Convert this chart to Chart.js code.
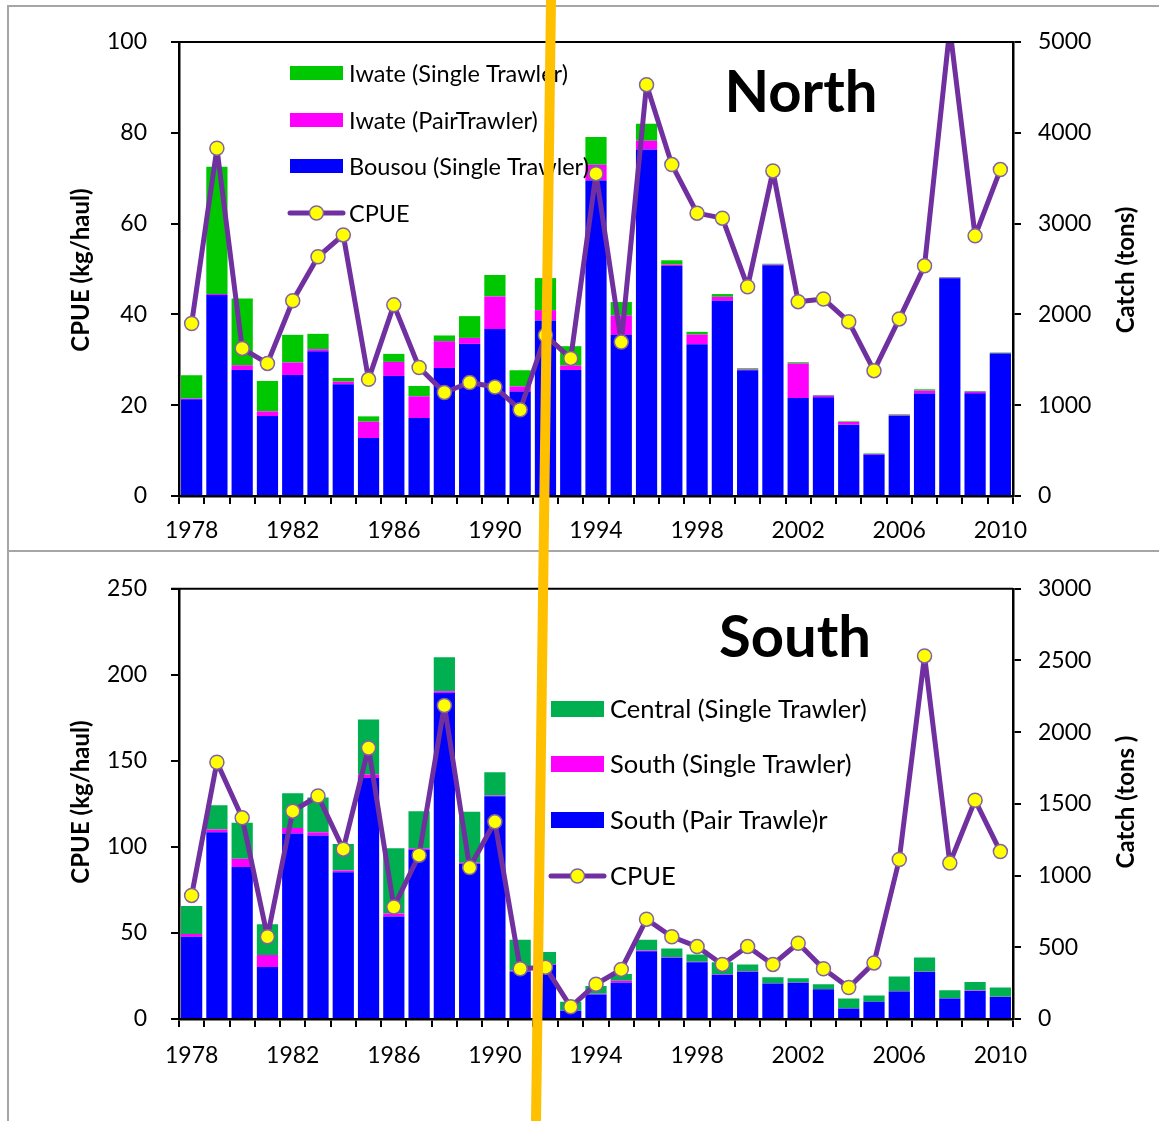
<!DOCTYPE html>
<html>
<head>
<meta charset="utf-8">
<script src="https://cdn.jsdelivr.net/npm/chart.js@4.4.0/dist/chart.umd.min.js"></script>
<style>
  html, body { margin: 0; padding: 0; background: #fff; }
  #page { position: relative; width: 1159px; height: 1121px; overflow: hidden; }
  .frame { position: absolute; background: #a6a6a6; }
  canvas { position: absolute; left: 0; }
  #orange { position: absolute; left: 0; top: 0; }
</style>
</head>
<body>
<div id="page">
  <div class="frame" style="left:8px; top:5px; width:1151px; height:2px;"></div>
  <div class="frame" style="left:7px; top:5px; width:2px; height:1116px;"></div>
  <div class="frame" style="left:8px; top:550px; width:1151px; height:2px;"></div>
  <canvas id="northChart" width="1159" height="551" style="top:0"></canvas>
  <canvas id="southChart" width="1159" height="570" style="top:551px"></canvas>
  <svg id="orange" width="1159" height="1121">
    <line x1="551" y1="0" x2="536" y2="1121" stroke="#ffc000" stroke-width="10"/>
  </svg>
</div>
<script>
const anos = [];
for (let a = 1978; a <= 2010; a++) anos.push(String(a));

// North: catch (tons) by fleet, CPUE (kg/haul)
const norteBousou = [1065, 2213, 1388, 880, 1333, 1595, 1231, 638, 1322, 859, 1410, 1675, 1838, 1150, 1934, 1388,
  3474, 1775, 3817, 2533, 1672, 2150, 1385, 2541, 1079, 1087, 786, 455, 885, 1128, 2397, 1131, 1569];
const norteIwatePair = [10, 12, 52, 52, 137, 22, 29, 181, 155, 239, 295, 66, 360, 58, 113, 49,
  174, 214, 96, 15, 107, 44, 10, 8, 380, 19, 29, 8, 8, 33, 8, 18, 5];
const norteIwateSingle = [255, 1401, 736, 335, 305, 169, 40, 58, 88, 114, 63, 240, 236, 177, 353, 213,
  306, 147, 187, 48, 29, 30, 12, 9, 14, 7, 7, 6, 7, 14, 7, 8, 6];
const norteCpue = [38.0, 76.6, 32.5, 29.2, 43.0, 52.7, 57.5, 25.7, 42.1, 28.3, 22.8, 25.0, 24.0, 19.0, 35.4, 30.3,
  71.0, 33.9, 90.6, 73.0, 62.3, 61.2, 46.1, 71.6, 42.8, 43.4, 38.4, 27.6, 39.0, 50.7, 103, 57.3, 71.9];

// South
const sulPair = [574, 1302, 1060, 362, 1293, 1279, 1023, 1680, 714, 1182, 2274, 1083, 1553, 332, 378, 57,
  171, 253, 472, 427, 396, 309, 330, 247, 253, 207, 74, 120, 191, 327, 143, 196, 154];
const sulSingle = [18, 20, 58, 85, 39, 23, 12, 25, 21, 8, 12, 6, 6, 4, 4, 2,
  5, 14, 6, 3, 3, 3, 3, 3, 2, 2, 1, 1, 5, 3, 2, 2, 2];
const centralSingle = [196, 169, 251, 214, 242, 242, 186, 383, 456, 259, 237, 356, 162, 217, 86, 61,
  54, 46, 75, 61, 50, 84, 47, 42, 30, 33, 68, 43, 101, 99, 55, 60, 63];
const sulCpue = [71.8, 149.2, 116.9, 47.8, 120.8, 129.6, 98.7, 157.5, 65.1, 95.2, 182.2, 88.0, 114.6, 29.2, 30.1, 7.1,
  20.2, 28.8, 58.0, 47.8, 42.1, 31.7, 42.1, 31.7, 44.0, 29.2, 18.3, 32.6, 92.7, 211.0, 90.6, 127.1, 97.3];

const ticksEsquerdaNorte = [0, 20, 40, 60, 80, 100];
const ticksDireitaNorte = [0, 1000, 2000, 3000, 4000, 5000];
const ticksEsquerdaSul = [0, 50, 100, 150, 200, 250];
const ticksDireitaSul = [0, 500, 1000, 1500, 2000, 2500, 3000];

const FONTE = 'Lato, "Open Sans", sans-serif';
const ROXO = '#7030a0';

// legend, titles and top border drawn on the canvas
const decorPlugin = {
  id: 'decor',
  afterDatasetsDraw(chart, args, opts) {
    const ctx = chart.ctx;
    const area = chart.chartArea;
    ctx.save();
    ctx.strokeStyle = '#000';
    ctx.lineWidth = 2;
    ctx.beginPath();
    ctx.moveTo(area.left - 8, area.top);
    ctx.lineTo(area.right, area.top);
    ctx.stroke();

    // legend
    ctx.font = opts.legendSize + 'px ' + FONTE;
    ctx.textBaseline = 'middle';
    ctx.textAlign = 'left';
    opts.legendOrder.forEach((idx, i) => {
      const ds = chart.data.datasets[idx];
      const y = opts.legendRows[i];
      const x = opts.legendX;
      if (ds.type === 'line') {
        ctx.strokeStyle = ds.borderColor;
        ctx.lineWidth = 5;
        ctx.lineCap = 'round';
        ctx.beginPath();
        ctx.moveTo(x, y);
        ctx.lineTo(x + opts.swatchW, y);
        ctx.stroke();
        ctx.beginPath();
        ctx.arc(x + opts.swatchW / 2, y, 7, 0, Math.PI * 2);
        ctx.fillStyle = ds.pointBackgroundColor;
        ctx.fill();
        ctx.lineWidth = 1.5;
        ctx.strokeStyle = ds.pointBorderColor;
        ctx.stroke();
      } else {
        ctx.fillStyle = ds.backgroundColor;
        ctx.fillRect(x, y - opts.swatchH / 2, opts.swatchW, opts.swatchH);
      }
      ctx.fillStyle = '#000';
      ctx.fillText(ds.label, x + opts.swatchW + 6, y + 1);
    });

    // panel title
    ctx.font = 'bold 58px ' + FONTE;
    ctx.textAlign = 'center';
    ctx.textBaseline = 'alphabetic';
    ctx.fillText(opts.title, opts.titleX, opts.titleY);

    // axis titles
    ctx.font = 'bold 24px ' + FONTE;
    [[opts.leftTitle, 89], [opts.rightTitle, 1134]].forEach(([txt, x]) => {
      ctx.save();
      ctx.translate(x, opts.axisTitleY);
      ctx.rotate(-Math.PI / 2);
      ctx.textAlign = 'center';
      ctx.fillText(txt, 0, 0);
      ctx.restore();
    });
    ctx.restore();
  }
};

function criarPainel(id, series, cpue, esquerda, direita, decor, padding, xPad) {
  const ctx = document.getElementById(id).getContext('2d');
  const eixoY = (ticks, pos, largura, pad) => ({
    type: 'linear',
    position: pos,
    min: ticks[0],
    max: ticks[ticks.length - 1],
    afterBuildTicks: scale => { scale.ticks = ticks.map(v => ({ value: v })); },
    afterFit: scale => { scale.width = largura; },
    grid: { drawOnChartArea: false, color: '#000', lineWidth: 2, tickLength: 8 },
    border: { color: '#000', width: 2.5 },
    ticks: { color: '#000', font: { family: FONTE, size: 23 }, padding: pad, callback: v => String(v) }
  });

  new Chart(ctx, {
    type: 'bar',
    data: {
      labels: anos,
      datasets: [
        {
          type: 'line',
          label: 'CPUE',
          data: cpue,
          yAxisID: 'y',
          borderColor: ROXO,
          borderWidth: 5,
          borderJoinStyle: 'round',
          borderCapStyle: 'round',
          tension: 0,
          pointRadius: 7,
          pointBackgroundColor: '#ffff00',
          pointBorderColor: '#8064a2',
          pointBorderWidth: 1.5,
          clip: 0
        },
        ...series.map(s => ({
          label: s.label,
          data: s.data,
          yAxisID: 'y2',
          stack: 'catch',
          backgroundColor: s.cor,
          borderWidth: 0,
          barPercentage: 0.84,
          categoryPercentage: 1
        }))
      ]
    },
    options: {
      responsive: false,
      animation: false,
      devicePixelRatio: 1,
      layout: { padding: padding },
      plugins: {
        legend: { display: false },
        tooltip: { enabled: false },
        decor: decor
      },
      scales: {
        x: {
          stacked: true,
          offset: true,
          afterFit: scale => { scale.height = 50; },
          grid: { offset: true, drawOnChartArea: false, color: '#000', lineWidth: 2, tickLength: 8 },
          border: { color: '#000', width: 2.5 },
          ticks: {
            color: '#000',
            font: { family: FONTE, size: 23 },
            autoSkip: false,
            maxRotation: 0,
            padding: xPad,
            callback: (v, i) => (i % 4 === 0 ? anos[i] : '')
          }
        },
        y: eixoY(esquerda, 'left', 179, 24),
        y2: Object.assign(eixoY(direita, 'right', 146, 17), { stacked: true })
      }
    },
    plugins: [decorPlugin]
  });
}

criarPainel('northChart',
  [
    { label: 'Bousou (Single Trawler)', data: norteBousou, cor: '#0000ff' },
    { label: 'Iwate (PairTrawler)', data: norteIwatePair, cor: '#ff00ff' },
    { label: 'Iwate (Single Trawler)', data: norteIwateSingle, cor: '#00c800' }
  ],
  norteCpue, ticksEsquerdaNorte, ticksDireitaNorte,
  {
    legendOrder: [3, 2, 1, 0], legendRows: [73, 120, 166, 213], legendX: 290,
    swatchW: 53, swatchH: 14, legendSize: 23.5,
    title: 'North', titleX: 801, titleY: 112,
    leftTitle: 'CPUE (kg/haul)', rightTitle: 'Catch (tons)', axisTitleY: 270
  },
  { left: 0, right: 0, top: 42, bottom: 5 }, 13);

criarPainel('southChart',
  [
    { label: 'South (Pair Trawle)r', data: sulPair, cor: '#0000ff' },
    { label: 'South (Single Trawler)', data: sulSingle, cor: '#ff00ff' },
    { label: 'Central (Single Trawler)', data: centralSingle, cor: '#00b050' }
  ],
  sulCpue, ticksEsquerdaSul, ticksDireitaSul,
  {
    legendOrder: [3, 2, 1, 0], legendRows: [158, 213, 269, 325], legendX: 551,
    swatchW: 53, swatchH: 16, legendSize: 25.5,
    title: 'South', titleX: 795, titleY: 106,
    leftTitle: 'CPUE (kg/haul)', rightTitle: 'Catch (tons )', axisTitleY: 251
  },
  { left: 0, right: 0, top: 33, bottom: 52 }, 15);
</script>
</body>
</html>
